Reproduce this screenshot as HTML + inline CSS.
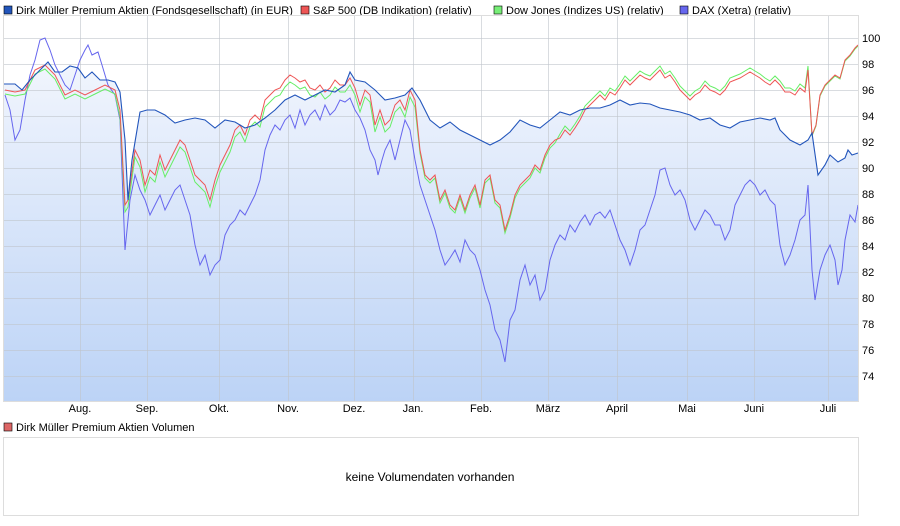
<!DOCTYPE html>
<html><head><meta charset="utf-8"><style>
body{margin:0;background:#fff;font-family:"Liberation Sans",sans-serif;}
svg{display:block}
text{font-family:"Liberation Sans",sans-serif;font-size:11px;fill:#000}
</style></head><body>
<svg id="s" width="900" height="526" xmlns="http://www.w3.org/2000/svg">
<defs><linearGradient id="g" x1="0" y1="0" x2="0" y2="1">
<stop offset="0" stop-color="#f1f5fd"/><stop offset="1" stop-color="#bcd3f6"/></linearGradient></defs>
<rect x="4" y="6" width="8" height="8" fill="#2255bb" stroke="#000" stroke-width="0.6"/>
<text x="16" y="14">Dirk Müller Premium Aktien (Fondsgesellschaft) (in EUR)</text>
<rect x="301" y="6" width="8" height="8" fill="#ee5555" stroke="#000" stroke-width="0.6"/>
<text x="313" y="14">S&amp;P 500 (DB Indikation) (relativ)</text>
<rect x="494" y="6" width="8" height="8" fill="#77ee77" stroke="#000" stroke-width="0.6"/>
<text x="506" y="14">Dow Jones (Indizes US) (relativ)</text>
<rect x="680" y="6" width="8" height="8" fill="#6666ee" stroke="#000" stroke-width="0.6"/>
<text x="692" y="14">DAX (Xetra) (relativ)</text>
<g id="plot"></g>
<rect x="4" y="423" width="8" height="8" fill="#dd6666" stroke="#000" stroke-width="0.6"/>
<text x="16" y="431">Dirk Müller Premium Aktien Volumen</text>
<rect x="3.5" y="437.5" width="855" height="78" fill="#fff" stroke="#ddd"/>
<text x="430" y="481" text-anchor="middle" style="font-size:12px">keine Volumendaten vorhanden</text>
</svg>
<script>
const P=document.getElementById('plot');let h='';
const L=3,R=858,T=15,B=401;
const dirk=[[3,84],[15,84],[22,90],[30,80],[40,70],[48,62],[55,72],[62,72],[70,66],[78,68],[85,78],[92,72],[100,80],[108,80],[115,82],[120,92],[125,140],[128,200],[132,160],[140,112],[147,110],[155,110],[165,115],[175,123],[185,120],[195,118],[205,120],[215,128],[225,120],[235,122],[245,128],[255,125],[265,118],[275,110],[285,100],[295,95],[305,100],[315,95],[325,90],[335,92],[345,85],[350,72],[355,80],[365,82],[375,90],[385,100],[395,98],[405,95],[412,88],[420,100],[430,120],[440,128],[450,122],[460,130],[470,135],[480,140],[490,145],[500,140],[510,132],[520,120],[530,125],[540,128],[550,120],[560,112],[570,115],[580,110],[590,108],[600,108],[610,105],[620,100],[630,105],[640,103],[650,104],[660,108],[670,110],[680,112],[690,115],[700,120],[710,118],[720,125],[730,128],[740,122],[750,120],[760,118],[770,120],[775,118],[780,130],[790,140],[800,145],[808,140],[812,133],[818,175],[825,165],[830,155],[838,162],[845,158],[848,150],[852,155],[858,153]];
const dax=[[5,95],[10,110],[15,140],[20,130],[25,100],[30,75],[35,60],[40,40],[45,38],[50,50],[55,65],[60,75],[65,85],[70,90],[75,75],[80,60],[85,50],[88,45],[92,55],[98,52],[102,65],[108,85],[115,95],[120,120],[125,250],[130,200],[135,175],[140,190],[145,200],[150,215],[155,205],[160,195],[165,210],[170,200],[175,190],[180,185],[185,200],[190,215],[195,245],[200,265],[205,255],[210,275],[215,265],[220,260],[225,235],[230,225],[235,220],[240,210],[245,215],[250,205],[255,195],[260,180],[265,150],[270,135],[275,125],[280,130],[285,120],[290,115],[295,128],[300,110],[305,125],[310,115],[315,110],[320,120],[325,105],[330,115],[335,110],[340,100],[345,102],[350,98],[355,110],[360,118],[365,130],[370,150],[375,160],[378,175],[382,160],[385,150],[390,140],[395,160],[400,140],[405,120],[410,130],[415,160],[420,185],[425,200],[430,215],[435,230],[440,250],[445,265],[450,258],[455,250],[460,262],[465,240],[470,250],[475,255],[480,270],[485,290],[490,305],[495,330],[500,340],[505,362],[510,320],[515,310],[520,280],[525,265],[530,285],[535,275],[540,300],[545,290],[550,260],[555,245],[560,235],[565,240],[570,225],[575,232],[580,222],[585,215],[590,225],[595,215],[600,212],[605,218],[610,210],[615,225],[620,240],[625,250],[630,265],[635,250],[640,230],[645,225],[650,210],[655,195],[660,170],[665,168],[670,185],[675,195],[680,190],[685,200],[690,220],[695,230],[700,220],[705,210],[710,215],[715,225],[720,225],[725,240],[730,230],[735,205],[740,195],[745,185],[750,180],[755,185],[760,195],[765,190],[770,200],[775,205],[780,245],[785,265],[790,255],[795,240],[800,220],[805,215],[808,185],[812,270],[815,300],[820,270],[825,255],[830,245],[835,260],[838,285],[842,270],[845,240],[850,215],[855,222],[858,205]];
const sp=[[5,90],[15,92],[25,90],[35,70],[45,65],[55,75],[65,95],[75,90],[85,95],[95,90],[105,85],[115,90],[120,110],[125,205],[128,200],[135,150],[140,160],[145,185],[150,170],[155,175],[160,155],[165,170],[170,160],[175,150],[180,140],[185,145],[190,160],[195,175],[200,180],[205,185],[210,200],[215,180],[220,165],[225,155],[230,145],[235,130],[240,125],[245,135],[250,120],[255,115],[260,120],[265,100],[270,95],[275,90],[280,88],[285,80],[290,75],[295,78],[300,82],[305,80],[310,88],[315,90],[320,85],[325,92],[330,88],[335,80],[340,85],[345,85],[350,78],[355,88],[360,105],[365,90],[370,95],[375,125],[380,110],[385,125],[390,120],[395,105],[400,100],[405,110],[410,90],[415,100],[420,150],[425,175],[430,180],[435,175],[440,200],[445,190],[450,205],[455,210],[460,195],[465,210],[470,195],[475,185],[480,205],[485,180],[490,175],[495,200],[500,205],[505,230],[510,215],[515,195],[520,185],[525,180],[530,175],[535,165],[540,170],[545,155],[550,145],[555,140],[560,138],[565,130],[570,135],[575,128],[580,120],[585,110],[590,105],[595,100],[600,95],[605,100],[610,92],[615,95],[620,88],[625,80],[630,85],[635,80],[640,75],[645,78],[650,80],[655,75],[660,70],[665,78],[670,75],[675,82],[680,90],[685,95],[690,100],[695,95],[700,92],[705,85],[710,90],[715,92],[720,95],[725,90],[730,82],[735,80],[740,78],[745,75],[750,72],[755,75],[760,78],[765,82],[770,85],[775,80],[780,85],[785,92],[790,92],[795,95],[800,88],[805,92],[808,70],[812,135],[816,125],[820,95],[825,85],[830,80],[835,75],[840,78],[845,60],[850,55],[855,48],[858,45]];
const dow=sp.map(([x,y])=>{let d=0;if(x>=120&&x<420)d=7;else if(x<120)d=4;else if(x>=560&&x<810)d=-4;else if(x>=420&&x<560)d=3;else d=1;return [x,y+d];});
const pts=a=>a.map(p=>p.join(',')).join(' ');
h+=`<rect x="${L}" y="${T}" width="${R-L}" height="${B-T}" fill="#fff"/>`;
h+=`<polygon points="${L},${B} ${pts(dirk)} ${R},${B}" fill="url(#g)"/>`;
const vx=[80,147,219,288,354,413,481,548,617,687,754,828],lab=['Aug.','Sep.','Okt.','Nov.','Dez.','Jan.','Feb.','März','April','Mai','Juni','Juli'];
let gr='';vx.forEach((x,i)=>{gr+=`<line x1="${x}.5" y1="${T}" x2="${x}.5" y2="${B}"/>`;h+=`<text x="${x}" y="412" text-anchor="middle">${lab[i]}</text>`;});
gr+=`<line x1="${L}" y1="${T}.5" x2="${R}" y2="${T}.5"/>`;
for(let v=100;v>=74;v-=2){const y=38+(100-v)*13;gr+=`<line x1="${L}" y1="${y}.5" x2="${R}" y2="${y}.5"/>`;h+=`<text x="862" y="${y+4}">${v}</text>`;}
h+=`<g stroke="#c0c4cc" stroke-opacity="0.6" stroke-width="1">${gr}</g>`;
h+=`<polyline points="${pts(dax)}" fill="none" stroke="#6666ee" stroke-width="1"/>`;
h+=`<polyline points="${pts(dow)}" fill="none" stroke="#66ee66" stroke-width="1"/>`;
h+=`<polyline points="${pts(sp)}" fill="none" stroke="#ee5555" stroke-width="1"/>`;
h+=`<polyline points="${pts(dirk)}" fill="none" stroke="#2255bb" stroke-width="1.1"/>`;
h+=`<rect x="${L}.5" y="${T}.5" width="${R-L}" height="${B-T}" fill="none" stroke="#ddd"/>`;
P.innerHTML=h;
</script>
</body></html>
